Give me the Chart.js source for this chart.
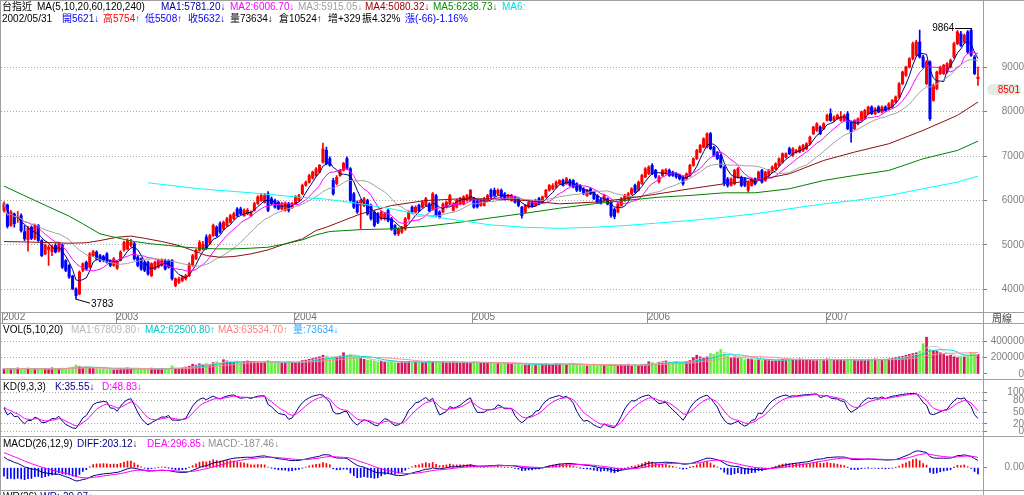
<!DOCTYPE html>
<html lang="zh-Hant">
<head>
<meta charset="utf-8">
<title>台指近 周線</title>
<script src="https://cdn.jsdelivr.net/npm/chart.js@4.4.1/dist/chart.umd.min.js"></script>
<style>
html,body{margin:0;padding:0;background:#fff;}
#wrap{position:relative;width:1024px;height:495px;overflow:hidden;background:#fff;font-family:"Liberation Sans",Arial,"Noto Sans CJK TC",sans-serif;}
#wrap canvas{position:absolute;left:0;}
.t{position:absolute;white-space:nowrap;font-size:10px;line-height:11px;color:#000;}
.ln{position:absolute;background:#a0a0a0;}
#mark{position:absolute;left:987px;width:34px;height:11px;background:#e3ece3;border-radius:6px;}
#mark span{position:absolute;right:1px;top:0;font-size:10px;line-height:11px;color:#ff0000;}
</style>
</head>
<body>
<div id="wrap">
<canvas id="cMain" width="1024" height="323" style="top:0px"></canvas>
<canvas id="cVol" width="1024" height="56" style="top:323px"></canvas>
<canvas id="cKD" width="1024" height="57" style="top:379px"></canvas>
<canvas id="cMACD" width="1024" height="54" style="top:436px"></canvas>

<div class="ln" style="left:0;top:0;width:1024px;height:1px"></div>
<div class="ln" style="left:0;top:0;width:1px;height:495px"></div>
<div class="ln" style="left:983px;top:0;width:1px;height:495px"></div>
<div class="ln" style="left:0;top:312px;width:1024px;height:1px"></div>
<div class="ln" style="left:0;top:323px;width:1024px;height:1px"></div>
<div class="ln" style="left:0;top:379px;width:1024px;height:1px"></div>
<div class="ln" style="left:0;top:436px;width:1024px;height:1px"></div>
<div class="ln" style="left:0;top:490px;width:1024px;height:1px"></div>

<div id="mark"><span>8501</span></div>
<div class="t" id="lblHi" style="left:932px;top:22px">9864</div>
<div class="t" id="lblLo" style="left:91px;top:297px">3783</div>
<div class="t" style="left:992px;top:313px;color:#404040">周線</div>

<div class="t" style="left:2px;top:1px">台指近</div>
<div class="t" style="left:37px;top:1px">MA(5,10,20,60,120,240)</div>
<div class="t" style="left:161px;top:1px;color:#0000a0">MA1:5781.20↓</div>
<div class="t" style="left:230px;top:1px;color:#ff00ff">MA2:6006.70↓</div>
<div class="t" style="left:298px;top:1px;color:#a0a0a0">MA3:5915.05↓</div>
<div class="t" style="left:365px;top:1px;color:#a00000">MA4:5080.32↓</div>
<div class="t" style="left:433px;top:1px;color:#009000">MA5:6238.73↓</div>
<div class="t" style="left:502px;top:1px;color:#00e0e0">MA6:</div>

<div class="t" style="left:2px;top:13px">2002/05/31</div>
<div class="t" style="left:62px;top:13px;color:#0000ff">開5621↓</div>
<div class="t" style="left:103px;top:13px;color:#ff0000">高5754↑</div>
<div class="t" style="left:145px;top:13px;color:#0000ff">低5508↑</div>
<div class="t" style="left:188px;top:13px;color:#0000ff">收5632↓</div>
<div class="t" style="left:230px;top:13px">量73634↓</div>
<div class="t" style="left:279px;top:13px">倉10524↑</div>
<div class="t" style="left:328px;top:13px">增+329</div>
<div class="t" style="left:362px;top:13px">振4.32%</div>
<div class="t" style="left:405px;top:13px;color:#0000ff">漲(-66)-1.16%</div>

<div class="t" style="left:3px;top:324px">VOL(5,10,20)</div>
<div class="t" style="left:71px;top:324px;color:#b8b8b8">MA1:67809.80↑</div>
<div class="t" style="left:145px;top:324px;color:#00c8c8">MA2:62500.80↑</div>
<div class="t" style="left:218px;top:324px;color:#ff8080">MA3:63534.70↑</div>
<div class="t" style="left:293px;top:324px;color:#30a8ff">量:73634↓</div>

<div class="t" style="left:3px;top:381px">KD(9,3,3)</div>
<div class="t" style="left:55px;top:381px;color:#000080">K:35.55↓</div>
<div class="t" style="left:102px;top:381px;color:#ff00ff">D:48.83↓</div>

<div class="t" style="left:3px;top:438px">MACD(26,12,9)</div>
<div class="t" style="left:77px;top:438px;color:#000080">DIFF:203.12↓</div>
<div class="t" style="left:147px;top:438px;color:#ff00ff">DEA:296.85↓</div>
<div class="t" style="left:208px;top:438px;color:#909090">MACD:-187.46↓</div>

<div class="t" style="left:3px;top:491px">WR(26) <span style="color:#000080">WR:-29.97↓</span></div>
</div>

<script>
// ---------- data (weekly bars) ----------
const open = [5780,5900,5440,5700,5621,5660,5300,5120,5400,5150,
 5440,5100,4800,4900,4850,4990,4860,5000,4650,4540,
 4300,4010,3900,4430,4610,4500,4760,4840,4760,4740,
 4800,4650,4540,4480,4660,4890,4910,4990,5030,4730,
 4690,4610,4610,4310,4460,4500,4540,4650,4650,4650,
 4090,4160,4200,4240,4310,4540,4690,4880,4910,5180,
 5040,5210,5400,5480,5360,5440,5510,5590,5810,5810,
 5660,5700,5660,5780,5930,6000,5960,6150,6040,6000,
 5960,5810,5780,5930,5850,5930,6000,6150,6340,6410,
 6500,6560,6640,6860,7130,6940,6450,6380,6560,6680,
 6940,6714,6150,5960,5890,5890,6000,5890,5740,5700,
 5590,5590,5770,5590,5440,5250,5290,5360,5590,5850,
 5740,5890,5850,5890,5920,5800,6110,5740,5740,5850,
 5920,5780,5850,5920,5920,6000,6000,6040,5990,5890,
 5890,6000,6230,6230,6150,6230,6150,6040,6000,6080,
 6040,5850,5740,5850,5960,5890,6040,5960,6080,6230,
 6260,6300,6380,6450,6380,6450,6450,6380,6340,6260,
 6110,6260,6190,6110,6020,6000,6040,5960,5800,5740,
 5890,6000,6040,6150,6340,6230,6380,6530,6600,6790,
 6680,6420,6560,6620,6675,6638,6600,6563,6525,6488,
 6563,6788,6938,7088,7200,7200,7500,7200,7088,7013,
 6750,6480,6338,6375,6525,6525,6488,6230,6338,6488,
 6488,6675,6450,6563,6638,6713,6788,6863,6975,7163,
 7013,7088,7088,7125,7163,7275,7500,7575,7650,7613,
 7800,7950,7800,7838,7800,7800,7950,7763,7613,7725,
 7800,7838,7950,8100,7950,8100,7988,8100,8063,8100,
 8213,8325,8625,8813,9000,9188,9263,9563,9225,8625,
 9113,8250,8513,8850,8850,8888,9000,9225,9525,9750,
 9563,9788,9825,9225,8738];
const high = [5970,5920,5780,5720,5754,5700,5440,5420,5430,5470,
 5460,5120,5020,5000,5000,5030,5060,5020,4670,4560,
 4320,4040,4420,4600,4640,4830,4880,4870,4790,4770,
 4830,4670,4720,4650,4870,5090,5140,5130,5060,4760,
 4710,4640,4640,4600,4640,4680,4690,4680,4670,4670,
 4260,4280,4310,4340,4600,4790,4910,5100,5080,5230,
 5240,5470,5430,5520,5540,5620,5690,5740,5840,5850,
 5810,5820,5770,5960,6110,6150,6160,6200,6080,6030,
 5990,5960,5970,5960,5960,6110,6140,6370,6440,6590,
 6660,6740,6810,7290,7200,6980,6500,6560,6700,6860,
 6980,6740,6180,5990,6030,6070,6030,5920,5770,5730,
 5770,5730,5800,5620,5460,5390,5420,5620,5770,5880,
 5880,5920,6000,6070,5950,6180,6140,5770,5950,5990,
 6140,5950,6030,6070,6110,6140,6250,6070,6020,6030,
 6070,6140,6260,6280,6260,6260,6180,6140,6140,6100,
 6060,5870,5910,5990,5990,6030,6070,6100,6250,6360,
 6380,6440,6470,6480,6520,6480,6470,6400,6360,6290,
 6250,6290,6210,6130,6050,6140,6060,5990,5830,5950,
 6070,6140,6180,6290,6370,6440,6590,6740,6780,6830,
 6700,6560,6700,6720,6710,6660,6630,6590,6550,6620,
 6810,6960,7150,7260,7410,7520,7530,7220,7100,7040,
 6780,6520,6510,6700,6740,6550,6510,6440,6510,6510,
 6660,6700,6660,6700,6780,6850,6960,7070,7070,7200,
 7190,7150,7230,7260,7300,7450,7670,7750,7680,7750,
 7940,8060,7900,7940,8000,7940,8000,7790,7820,7860,
 8010,8050,8120,8130,8090,8130,8130,8130,8200,8270,
 8350,8650,8910,9020,9210,9560,9600,9830,9260,9150,
 9140,8620,8910,9020,9060,9100,9180,9560,9820,9800,
 9740,9820,9864,9260,9000];
const low = [5740,5380,5420,5400,5508,5290,5100,4860,5120,5120,
 5080,4740,4780,4540,4760,4820,4840,4470,4400,4250,
 4000,3783,3880,4400,4430,4480,4740,4660,4620,4620,
 4590,4510,4520,4450,4640,4860,4890,4960,4660,4510,
 4430,4400,4320,4290,4440,4480,4520,4440,4480,4210,
 4060,4130,4170,4210,4290,4520,4670,4860,4890,4900,
 5010,5190,5180,5260,5330,5420,5490,5570,5640,5680,
 5640,5680,5640,5760,5910,5980,5940,5750,5900,5830,
 5790,5790,5760,5740,5820,5910,5980,6130,6320,6390,
 6480,6540,6620,6840,6800,6770,6120,6350,6540,6660,
 6690,5980,5820,5710,5360,5860,5670,5560,5410,5480,
 5560,5560,5520,5330,5220,5210,5260,5330,5560,5710,
 5720,5750,5830,5870,5750,5780,5640,5600,5720,5830,
 5900,5760,5830,5900,5900,5980,5980,5830,5830,5870,
 5870,5980,6060,6090,6130,6050,6010,6020,5980,5940,
 5860,5600,5720,5830,5850,5870,5900,5940,6060,6210,
 6240,6280,6360,6320,6360,6320,6280,6200,6200,6130,
 6090,6130,6020,5940,5920,5980,5900,5620,5590,5720,
 5870,5980,6020,6130,6170,6210,6360,6510,6580,6580,
 6500,6390,6540,6590,6540,6540,6500,6460,6340,6460,
 6540,6770,6920,7070,7180,7180,7140,6990,6920,6730,
 6330,6300,6320,6350,6500,6310,6310,6190,6320,6350,
 6470,6390,6430,6540,6620,6690,6770,6840,6950,7030,
 6990,7060,7070,7100,7140,7250,7480,7550,7480,7590,
 7780,7780,7780,7820,7780,7780,7590,7310,7590,7700,
 7780,7820,7930,7930,7930,7970,7970,8000,8040,8080,
 8190,8300,8600,8790,8980,9160,9240,9200,8980,8600,
 7800,8230,8490,8830,8830,8860,8980,9200,9500,9460,
 9540,9300,9240,8830,8588];
const close = [5925,5420,5740,5480,5632,5320,5140,5380,5150,5440,
 5100,4760,4990,4950,4960,4840,5020,4500,4430,4280,
 4010,3860,4390,4580,4460,4800,4850,4690,4650,4660,
 4610,4540,4690,4610,4840,5060,5100,5060,4690,4540,
 4460,4430,4350,4580,4610,4650,4650,4460,4500,4240,
 4240,4240,4280,4310,4570,4760,4880,5060,5020,4920,
 5210,5440,5210,5290,5510,5590,5660,5700,5660,5700,
 5780,5780,5740,5930,6080,6110,6110,5780,5930,5850,
 5810,5930,5930,5780,5930,6080,6110,6340,6410,6560,
 6640,6710,6790,7160,6830,6790,6150,6520,6680,6830,
 6720,6000,5850,5740,6000,6040,5700,5590,5440,5510,
 5740,5700,5550,5360,5250,5360,5400,5590,5740,5740,
 5850,5770,5960,6040,5770,6150,5660,5620,5920,5960,
 6110,5900,6000,6040,6080,6110,6230,5850,5860,6000,
 6040,6110,6080,6110,6230,6080,6040,6110,6110,5960,
 5890,5660,5890,5960,5870,6000,5920,6080,6230,6340,
 6330,6410,6450,6340,6490,6340,6300,6230,6230,6150,
 6230,6150,6040,5960,5940,6110,5920,5660,5640,5920,
 6040,6110,6150,6260,6190,6410,6560,6710,6750,6600,
 6530,6525,6675,6690,6563,6563,6525,6488,6375,6600,
 6788,6938,7125,7238,7388,7500,7163,7013,6938,6750,
 6380,6340,6488,6675,6713,6338,6338,6413,6488,6375,
 6638,6413,6638,6675,6750,6825,6938,7050,7050,7050,
 7163,7125,7200,7238,7275,7425,7650,7725,7500,7725,
 7913,7800,7875,7913,7875,7913,7613,7538,7800,7838,
 7988,8025,8100,7950,8063,7988,8100,8025,8175,8250,
 8325,8625,8888,9000,9188,9525,9563,9225,9000,9113,
 7838,8588,8888,9000,9038,9075,9150,9525,9788,9488,
 9713,9338,9263,8850,8775];
const volume = [62000,70000,58000,66000,73634,60000,68000,72000,55000,64000,
 60000,70000,62000,58000,75000,66000,60000,72000,68000,80000,
 85000,110000,95000,80000,88000,75000,70000,65000,60000,58000,
 55000,58000,52000,62000,70000,66000,75000,60000,58000,55000,
 62000,68000,60000,72000,58000,64000,70000,66000,62000,100000,
 68000,62000,75000,85000,95000,120000,110000,125000,118000,130000,
 115000,140000,150000,135000,175000,160000,150000,145000,155000,140000,
 150000,160000,150000,140000,145000,135000,150000,165000,140000,135000,
 145000,130000,140000,150000,145000,140000,150000,165000,170000,180000,
 190000,200000,210000,230000,220000,190000,200000,210000,220000,260000,
 230000,240000,210000,200000,190000,180000,170000,175000,160000,150000,
 155000,145000,150000,160000,140000,135000,150000,145000,155000,140000,
 150000,145000,140000,150000,160000,155000,145000,140000,150000,135000,
 145000,150000,140000,130000,145000,135000,140000,150000,145000,130000,
 140000,135000,130000,140000,130000,125000,135000,130000,125000,115000,
 120000,110000,115000,120000,105000,115000,110000,120000,125000,115000,
 120000,130000,125000,120000,115000,130000,125000,115000,110000,105000,
 100000,110000,120000,100000,110000,105000,95000,115000,110000,105000,
 115000,110000,120000,95000,110000,105000,115000,120000,150000,140000,
 120000,145000,150000,160000,145000,140000,155000,135000,145000,150000,
 165000,200000,230000,210000,195000,210000,250000,240000,270000,300000,
 245000,220000,200000,210000,190000,195000,175000,180000,185000,170000,
 180000,165000,175000,170000,160000,165000,170000,180000,175000,185000,
 180000,175000,185000,180000,170000,175000,165000,170000,180000,175000,
 185000,170000,180000,175000,170000,165000,175000,180000,170000,165000,
 175000,170000,180000,175000,185000,170000,175000,180000,185000,190000,
 200000,210000,215000,230000,240000,250000,260000,280000,370000,450000,
 300000,290000,280000,260000,240000,220000,230000,210000,200000,210000,
 220000,230000,260000,250000,240000];

// long moving averages at sample weeks
const ma60Week  = [0,9,19,24,28,33,37,41,46,51,56,59,63,67,72,77,82,87,91,94,104,113,123,133,142,152,162,172,181,190,200,210,219,229,239,248,258,268,278,284];
const ma60Val   = [5078,5063,5040,5050,5100,5175,5200,5150,5078,4988,4850,4763,4725,4740,4800,4890,5025,5138,5325,5400,5699,5887,6000,6038,6038,6000,5925,5962,6038,6140,6263,6375,6450,6600,6900,7088,7275,7575,7913,8213];
const ma120Week = [0,9,19,23,28,33,38,43,48,53,57,62,67,72,77,82,87,91,95,104,113,123,133,142,152,162,172,181,191,200,210,219,229,239,248,258,268,278,284];
const ma120Val  = [6323,6000,5647,5475,5250,5160,5078,5025,4988,4950,4928,4913,4913,4928,4950,5025,5115,5228,5303,5346,5361,5421,5511,5609,5714,5827,5925,6000,6075,6113,6173,6173,6263,6450,6563,6675,6938,7125,7335];
const ma240Week = [42,57,72,86,94,104,113,123,133,142,152,162,172,181,190,200,210,219,229,239,248,258,268,278,284];
const ma240Val  = [6398,6263,6173,6075,6030,5925,5812,5662,5549,5451,5398,5375,5398,5436,5490,5550,5625,5700,5813,5925,6000,6113,6263,6413,6548];

const yearLabels = ['2002','2003','2004','2005','2006','2007'];
const yearStart  = [0,33,85,137,188,240];
const priceTicks = [4000,5000,6000,7000,8000,9000];
const volTicks   = [0,200000,400000];
const kdTicks    = [0,20,50,80,100];
const macdTicks  = [0];
const markPrice  = 8501;

// indicator seeds (state before the first visible week)
const SEED_K = 50, SEED_D = 64;
const SEED_EMA12 = 6050, SEED_EMA26 = 5715, SEED_DEA = 450;

// ---------- layout constants ----------
const FONT = '"Liberation Sans", Arial, sans-serif';
const X_MIN = -0.875, X_MAX = 285.46;
const P_MIN = 3494, P_MAX = 10506;
const V_MIN = -61200, V_MAX = 623900;
const KD_MIN = -10.9, KD_MAX = 133.8;
const MACD_H = 54, MACD_ZERO_PX = 31.7, MACD_PEAK_PX = 16.7;
const YEAR_SHIFT = -0.3;

// ---------- derived series ----------
const N = close.length;
function sma(arr, n){
  return arr.map((_, i) => { const s = Math.max(0, i - n + 1); let t = 0; for (let k = s; k <= i; k++) t += arr[k]; return t / (i - s + 1); });
}
const pts = arr => arr.map((v, i) => ({x: i, y: v}));
const sparse = (w, v) => w.map((x, i) => ({x, y: v[i]}));
const up = close.map((c, i) => c >= open[i]);
const candleColor = up.map(u => u ? '#ff0000' : '#0000ff');
const volColor = up.map(u => u ? '#d8145a' : '#66f03c');

const kArr = [], dArr = [];
{ let k = SEED_K, d = SEED_D;
  for (let i = 0; i < N; i++) {
    const s = Math.max(0, i - 8);
    let lo = Infinity, hi = -Infinity;
    for (let j = s; j <= i; j++) { lo = Math.min(lo, low[j]); hi = Math.max(hi, high[j]); }
    const rsv = hi === lo ? 50 : (close[i] - lo) / (hi - lo) * 100;
    k = (2 * k + rsv) / 3; d = (2 * d + k) / 3;
    kArr.push(k); dArr.push(d);
  } }
const diffArr = [], deaArr = [], macdArr = [];
{ let e12 = SEED_EMA12, e26 = SEED_EMA26, dea = SEED_DEA;
  for (let i = 0; i < N; i++) {
    e12 += 2 / 13 * (close[i] - e12); e26 += 2 / 27 * (close[i] - e26);
    const diff = e12 - e26; dea += 2 / 10 * (diff - dea);
    diffArr.push(diff); deaArr.push(dea); macdArr.push(2 * (diff - dea));
  } }
const macdK = MACD_PEAK_PX / Math.max(...diffArr);
const M_MAX = MACD_ZERO_PX / macdK, M_MIN = -(MACD_H - MACD_ZERO_PX) / macdK;

// ---------- chart helpers ----------
Chart.defaults.font.family = FONT;
function xHidden(){ return {type:'linear', min:X_MIN, max:X_MAX, bounds:'data', offset:false, grid:{offset:false}, display:false}; }
function yAxis(min, max, ticksArr, pad, fmt, gridColor){
  return {
    type:'linear', position:'right', min, max, bounds:'data', offset:false,
    afterBuildTicks: a => { a.ticks = ticksArr.map(v => ({value: v})); },
    afterFit: a => { a.width = 41; a.paddingTop = 0; a.paddingBottom = 0; },
    ticks: {autoSkip:false, crossAlign:'far', padding:pad, color:'#808080', font:{size:10, family:FONT}, callback: fmt},
    grid: {color: gridColor, lineWidth:1, drawTicks:true, tickLength:4, tickColor:'#808080', tickBorderDash:[], offset:false},
    border: {display:false, dash:[1,2]}
  };
}
const baseOpts = {
  responsive:false, maintainAspectRatio:false, animation:false, events:[],
  layout:{padding:{left:1, right:0, top:0, bottom:0}},
  plugins:{legend:{display:false}, tooltip:{enabled:false}}
};
const line = (data, color) => ({type:'line', data, borderColor:color, borderWidth:1, pointRadius:0, fill:false, tension:0, order:1});

// ---------- main price panel ----------
const extremes = {
  id:'extremes',
  afterDraw(chart){
    const {ctx, scales:{x, y}} = chart;
    let hi = 0, lo = 0;
    for (let i = 1; i < N; i++) { if (high[i] > high[hi]) hi = i; if (low[i] < low[lo]) lo = i; }
    const hx = x.getPixelForValue(hi), hy = y.getPixelForValue(high[hi]);
    const lx = x.getPixelForValue(lo), ly = y.getPixelForValue(low[lo]);
    ctx.save(); ctx.strokeStyle = '#000'; ctx.lineWidth = 1; ctx.beginPath();
    ctx.moveTo(hx - 16, Math.round(hy) - 0.5); ctx.lineTo(hx + 1, Math.round(hy) - 0.5);
    ctx.moveTo(lx, ly); ctx.lineTo(lx + 14, ly + 4);
    ctx.stroke(); ctx.restore();
    const h = document.getElementById('lblHi'); h.textContent = String(high[hi]); h.style.left = (hx - 39) + 'px'; h.style.top = (hy - 6.5) + 'px';
    const l = document.getElementById('lblLo'); l.textContent = String(low[lo]); l.style.left = (lx + 15) + 'px'; l.style.top = (ly - 1.5) + 'px';
    document.getElementById('mark').style.top = (y.getPixelForValue(markPrice) - 5.5) + 'px';
  }
};
new Chart(document.getElementById('cMain'), {
  data:{datasets:[
    {type:'bar', data: close.map((c, i) => ({x:i, y:[low[i], high[i]]})), backgroundColor:candleColor, barThickness:1, grouped:false, order:3},
    {type:'bar', data: close.map((c, i) => ({x:i, y:[Math.min(open[i], c), Math.max(open[i], c)]})), backgroundColor:candleColor, barThickness:2.4, minBarLength:1, grouped:false, order:2},
    line(sparse(ma240Week, ma240Val), '#00ffff'),
    line(sparse(ma120Week, ma120Val), '#008000'),
    line(sparse(ma60Week, ma60Val), '#8b1010'),
    line(pts(sma(close, 20)), '#a0a0a0'),
    line(pts(sma(close, 10)), '#ff00ff'),
    line(pts(sma(close, 5)), '#000080')
  ]},
  options:Object.assign({}, baseOpts, {
    scales:{
      x:{type:'linear', position:'bottom', min:X_MIN, max:X_MAX, bounds:'data', offset:false,
         afterBuildTicks: a => { a.ticks = yearStart.map(v => ({value: v + YEAR_SHIFT})); },
         afterFit: a => { a.height = 11; a.paddingLeft = 0; a.paddingRight = 0; },
         ticks:{autoSkip:false, maxRotation:0, minRotation:0, align:'start', padding:-12, color:'#707070', font:{size:10, family:FONT},
                callback:(v, i) => yearLabels[i]},
         grid:{drawOnChartArea:false, drawTicks:true, tickLength:11, tickColor:'#909090', color:'#909090', offset:false},
         border:{display:false}},
      y: yAxis(P_MIN, P_MAX, priceTicks, 12, v => String(v), '#a8a8a8')
    }
  }),
  plugins:[extremes]
});

// ---------- volume panel ----------
new Chart(document.getElementById('cVol'), {
  data:{datasets:[
    {type:'bar', data: pts(volume), backgroundColor:volColor, barThickness:2, grouped:false, order:2},
    line(pts(sma(volume, 20)), '#ff9090'),
    line(pts(sma(volume, 10)), '#00d8d8'),
    line(pts(sma(volume, 5)), '#c8c8c8')
  ]},
  options:Object.assign({}, baseOpts, {scales:{
    x: xHidden(),
    y: yAxis(V_MIN, V_MAX, volTicks, 0, v => String(v), c => (c.tick && c.tick.value === 0) ? 'rgba(0,0,0,0)' : '#a8a8a8')
  }})
});

// ---------- KD panel ----------
new Chart(document.getElementById('cKD'), {
  data:{datasets:[ line(pts(dArr), '#ff00ff'), line(pts(kArr), '#000080') ]},
  options:Object.assign({}, baseOpts, {scales:{
    x: xHidden(),
    y: yAxis(KD_MIN, KD_MAX, kdTicks, 16, v => String(v), '#a8a8a8')
  }})
});

// ---------- MACD panel ----------
new Chart(document.getElementById('cMACD'), {
  data:{datasets:[
    {type:'bar', data: pts(macdArr), backgroundColor: macdArr.map(v => v >= 0 ? '#ff0000' : '#0000ff'), barThickness:1, grouped:false, order:2},
    line(pts(deaArr), '#ff00ff'),
    line(pts(diffArr), '#000080')
  ]},
  options:Object.assign({}, baseOpts, {scales:{
    x: xHidden(),
    y: yAxis(M_MIN, M_MAX, macdTicks, 13, v => Number(v).toFixed(2), 'rgba(0,0,0,0)')
  }})
});
</script>
</body>
</html>
